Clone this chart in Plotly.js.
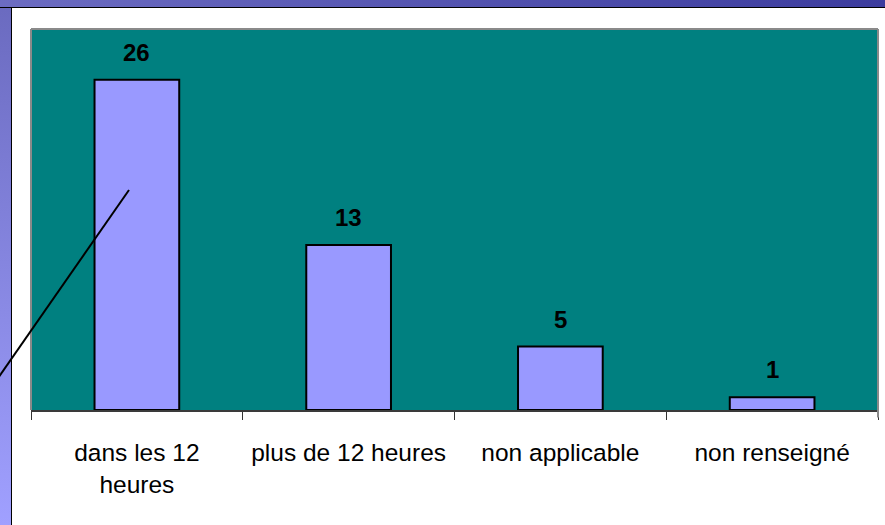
<!DOCTYPE html>
<html>
<head>
<meta charset="utf-8">
<script src="https://cdn.plot.ly/plotly-3.0.1.min.js"></script>
<style>
html,body{margin:0;padding:0;background:#fff;}
#frame{position:relative;width:885px;height:525px;overflow:hidden;background:#fff;}
#leftstrip{position:absolute;left:0;top:0;width:11px;height:525px;background:linear-gradient(to bottom,#6a6abf,#a0a0ff);border-right:1px solid #000;}
#topstrip{position:absolute;left:0;top:0;width:885px;height:7px;background:linear-gradient(to right,#6c6cc2,#3c3c9e);border-bottom:1px solid #000;}
#chart{position:absolute;left:0;top:0;width:885px;height:525px;}
</style>
</head>
<body>
<div id="frame">
<div id="leftstrip"></div>
<div id="topstrip"></div>
<div id="chart"></div>
</div>
<script>
const categories = ["dans les 12 heures", "plus de 12 heures", "non applicable", "non renseigné"];
const tickLabels = ["dans les 12<br>heures", "plus de 12 heures", "non applicable", "non renseigné"];
const values = [26, 13, 5, 1];

const font = "Liberation Sans, Arial, sans-serif";

const trace = {
  type: "bar",
  x: categories,
  y: values,
  width: 0.40,
  marker: {color: "#9999FF", line: {color: "#000000", width: 2}},
  hoverinfo: "skip"
};

const annotations = categories.map((c, i) => ({
  x: c, y: values[i], xref: "x", yref: "y",
  text: String(values[i]), showarrow: false,
  yanchor: "bottom", yshift: 12,
  font: {family: font, size: 24, color: "#000", weight: "bold"}
}));

const grey = "#8a8a8a";
const shapes = [
  {type: "line", xref: "paper", yref: "paper", x0: 0, x1: 0, y0: 0, y1: 1, line: {color: grey, width: 2}},
  {type: "line", xref: "paper", yref: "paper", x0: 0, x1: 1, y0: 1, y1: 1, line: {color: grey, width: 2}},
  {type: "line", xref: "paper", yref: "paper", x0: 1, x1: 1, y0: -0.02, y1: 1, line: {color: grey, width: 2}},
  {type: "line", xref: "paper", yref: "paper", x0: 0.1157, y0: 0.5774, x1: -0.038, y1: 0.087, line: {color: "#000", width: 2}}
];

const layout = {
  width: 885, height: 525,
  margin: {l: 31, r: 7, t: 29, b: 115},
  paper_bgcolor: "rgba(0,0,0,0)",
  plot_bgcolor: "#008080",
  showlegend: false,
  xaxis: {
    type: "category",
    tickmode: "array", tickvals: categories, ticktext: tickLabels,
    tickson: "boundaries",
    ticks: "outside", ticklen: 8, tickwidth: 1, tickcolor: "#333",
    showline: true, linecolor: "#3a3a3a", linewidth: 2,
    showgrid: false, zeroline: false,
    ticklabelstandoff: 20,
    tickfont: {family: font, size: 24.5, color: "#000"}
  },
  yaxis: {
    range: [0, 30], visible: true, showticklabels: false, ticks: "",
    showgrid: false, zeroline: false, showline: false
  },
  annotations: annotations,
  shapes: shapes
};

Plotly.newPlot("chart", [trace], layout, {displayModeBar: false, staticPlot: true});
</script>
</body>
</html>
